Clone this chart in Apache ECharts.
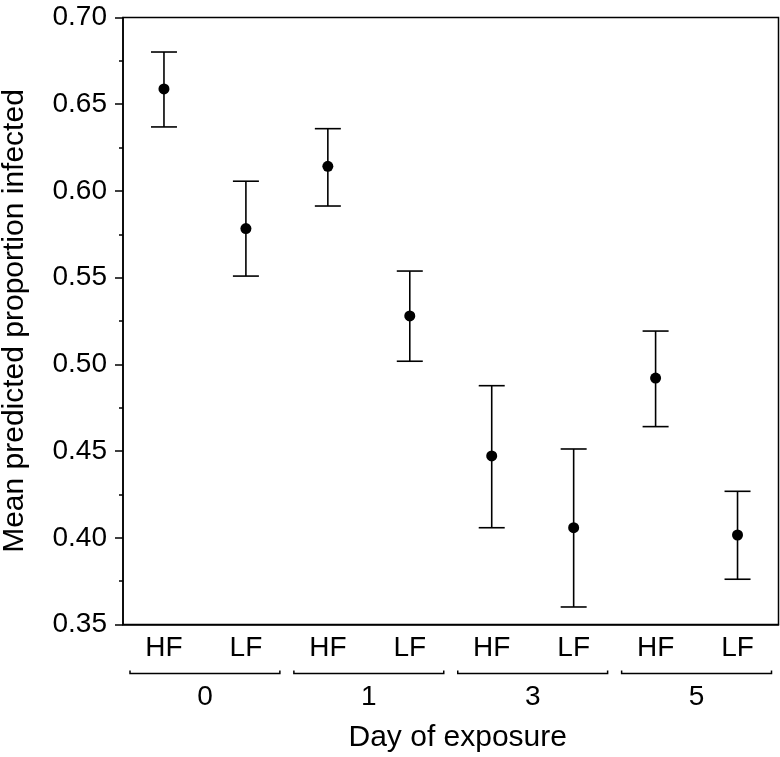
<!DOCTYPE html>
<html>
<head>
<meta charset="utf-8">
<script src="https://cdn.jsdelivr.net/npm/echarts@6/dist/echarts.min.js"></script>
<style>
html,body{margin:0;padding:0;background:#fff;}
#chart{width:780px;height:757px;}
</style>
</head>
<body>
<div id="chart"></div>
<script>
// ---- data ----
var treatments = ['HF','LF','HF','LF','HF','LF','HF','LF'];
var days = ['0','1','3','5'];
var means = [0.6588, 0.5783, 0.6142, 0.5279, 0.4472, 0.4058, 0.4921, 0.4016];
var lower = [0.6369, 0.5509, 0.5913, 0.5018, 0.4058, 0.3601, 0.4641, 0.3761];
var upper = [0.6801, 0.6056, 0.6359, 0.5538, 0.4877, 0.4512, 0.5192, 0.4268];
var groups = [[0,1],[2,3],[4,5],[6,7]];

var FONT = '"Liberation Sans", Arial, Helvetica, sans-serif';

var errData = means.map(function(m, i){ return [i, lower[i], upper[i]]; });
var ptData = means.map(function(m, i){ return [i, m]; });

var chart = echarts.init(document.getElementById('chart'), null, {renderer:'canvas'});
chart.setOption({
  animation: false,
  backgroundColor: '#fff',
  grid: {left:123, right:1.5, top:17.5, bottom:132.5, containLabel:false, outerBoundsMode:'none',
         show:true, borderColor:'#000', borderWidth:1.5, backgroundColor:'transparent'},
  xAxis: [{
    type:'category', data: treatments, boundaryGap:true, position:'bottom',
    axisLine:{show:true, lineStyle:{color:'#000', width:1.5}},
    axisTick:{show:false},
    axisLabel:{color:'#000', fontSize:28, fontFamily:FONT, margin:10, interval:0},
    splitLine:{show:false},
    name:'Day of exposure', nameLocation:'middle', nameGap:98,
    nameTextStyle:{color:'#000', fontSize:30, fontFamily:FONT, padding:[0,0,0,14]}
  },{
    type:'category', data: days, boundaryGap:true, position:'bottom',
    axisLine:{show:false}, axisTick:{show:false},
    axisLabel:{color:'#000', fontSize:28, fontFamily:FONT, margin:59, interval:0},
    splitLine:{show:false}
  }],
  yAxis: {
    type:'value', min:0.35, max:0.70, interval:0.05,
    axisLine:{show:true, lineStyle:{color:'#000', width:1.5}},
    axisTick:{show:true, inside:false, length:8, lineStyle:{color:'#000', width:1.5}},
    minorTick:{show:true, splitNumber:2, length:4, lineStyle:{color:'#000', width:1.5}},
    axisLabel:{color:'#000', fontSize:28, fontFamily:FONT, margin:16, formatter:function(v){return v.toFixed(2);}},
    splitLine:{show:false},
    name:'Mean predicted proportion infected', nameLocation:'middle', nameGap:93,
    nameTextStyle:{color:'#000', fontSize:30, fontFamily:FONT}
  },
  series: [{
    type:'custom', xAxisIndex:0, yAxisIndex:0,
    data: errData,
    renderItem: function(params, api){
      var x = api.value(0);
      var lo = api.coord([x, api.value(1)]);
      var hi = api.coord([x, api.value(2)]);
      var hw = 13;
      var st = {stroke:'#000', lineWidth:1.6, fill:null};
      return {type:'group', children:[
        {type:'line', shape:{x1:lo[0], y1:lo[1], x2:hi[0], y2:hi[1]}, style:st},
        {type:'line', shape:{x1:lo[0]-hw, y1:lo[1], x2:lo[0]+hw, y2:lo[1]}, style:st},
        {type:'line', shape:{x1:hi[0]-hw, y1:hi[1], x2:hi[0]+hw, y2:hi[1]}, style:st}
      ]};
    },
    z:2
  },{
    type:'scatter', xAxisIndex:0, yAxisIndex:0,
    data: ptData, symbol:'circle', symbolSize:11,
    itemStyle:{color:'#000', opacity:1}, z:3
  },{
    type:'custom', xAxisIndex:0, yAxisIndex:0, clip:false, silent:true,
    data: groups,
    renderItem: function(params, api){
      var a = api.coord([api.value(0), 0.35]);
      var b = api.coord([api.value(1), 0.35]);
      var band = api.size([1, 0])[0];
      var x0 = a[0] - band/2 + 7, x1 = b[0] + band/2 - 7;
      var y = a[1] + 49;
      return {type:'polyline', shape:{points:[[x0, y-3],[x0, y],[x1, y],[x1, y-3]]},
        style:{stroke:'#000', lineWidth:1.5, fill:null}};
    }
  }]
});
</script>
</body>
</html>
